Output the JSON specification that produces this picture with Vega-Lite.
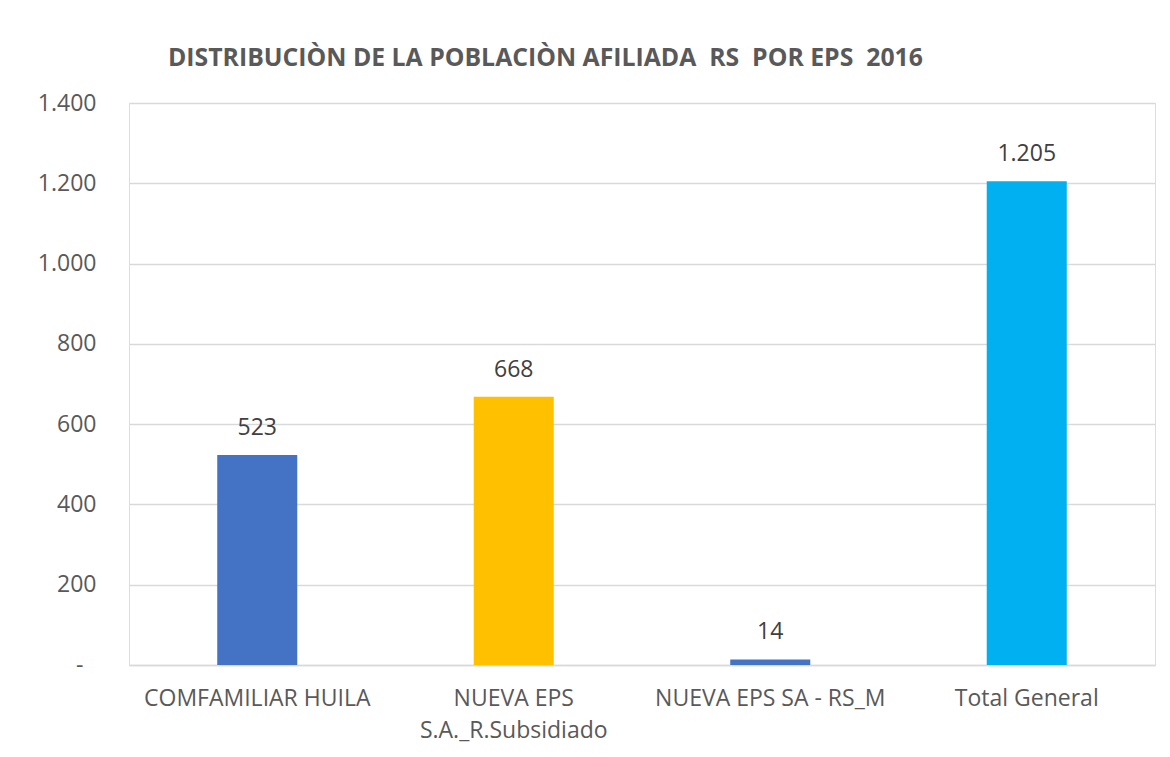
{
  "$schema": "https://vega.github.io/schema/vega-lite/v6.json",
  "autosize": {"type": "none"},
  "padding": {"left": 129, "top": 103, "right": 15, "bottom": 92},
  "width": 1026,
  "height": 562,
  "background": "white",
  "config": {
    "locale": {
      "number": {"decimal": ",", "thousands": ".", "grouping": [3], "currency": ["$", ""]}
    }
  },
  "title": {
    "text": "DISTRIBUCIÒN DE LA POBLACIÒN AFILIADA \u00a0RS \u00a0POR EPS \u00a02016",
    "anchor": "start",
    "frame": "group",
    "dx": 39,
    "offset": 21,
    "font": "Open Sans",
    "fontSize": 24.8,
    "fontWeight": "bold",
    "color": "#595959"
  },
  "data": {
    "values": [
      {"eps": "COMFAMILIAR HUILA", "afiliados": 523},
      {"eps": "NUEVA EPS S.A._R.Subsidiado", "afiliados": 668},
      {"eps": "NUEVA EPS SA - RS_M", "afiliados": 14},
      {"eps": "Total General", "afiliados": 1205}
    ]
  },
  "encoding": {
    "x": {
      "field": "eps",
      "type": "nominal",
      "sort": null,
      "scale": {"paddingInner": 0.688, "paddingOuter": 0.344},
      "axis": {
        "title": null,
        "labelAngle": 0,
        "ticks": false,
        "domain": true,
        "domainColor": "#d9d9d9",
        "domainWidth": 1.5,
        "labelFont": "Open Sans",
        "labelFontSize": 23,
        "labelColor": "#595959",
        "labelPadding": 22,
        "labelLimit": 0,
        "labelLineHeight": 32,
        "labelExpr": "datum.label == 'NUEVA EPS S.A._R.Subsidiado' ? ['NUEVA EPS', 'S.A._R.Subsidiado'] : datum.label"
      }
    },
    "y": {
      "field": "afiliados",
      "type": "quantitative",
      "scale": {"domain": [0, 1400], "nice": false},
      "axis": {
        "title": null,
        "values": [0, 200, 400, 600, 800, 1000, 1200, 1400],
        "ticks": false,
        "domain": false,
        "gridColor": "#d9d9d9",
        "gridWidth": 1.5,
        "labelFont": "Open Sans",
        "labelFontSize": 23,
        "labelColor": "#595959",
        "labelPadding": {"condition": {"test": "datum.value == 0", "value": 46}, "value": 33},
        "labelExpr": "datum.value == 0 ? '-' : format(datum.value, ',')"
      }
    }
  },
  "layer": [
    {
      "mark": {"type": "bar"},
      "encoding": {
        "color": {
          "field": "eps",
          "type": "nominal",
          "scale": {
            "domain": ["COMFAMILIAR HUILA", "NUEVA EPS S.A._R.Subsidiado", "NUEVA EPS SA - RS_M", "Total General"],
            "range": ["#4472C4", "#FFC000", "#4472C4", "#00B0F0"]
          },
          "legend": null
        }
      }
    },
    {
      "mark": {
        "type": "text",
        "baseline": "alphabetic",
        "dy": -20,
        "font": "Open Sans",
        "fontSize": 23,
        "color": "#404040"
      },
      "encoding": {
        "text": {"field": "afiliados", "type": "quantitative", "format": ","}
      }
    }
  ]
}
